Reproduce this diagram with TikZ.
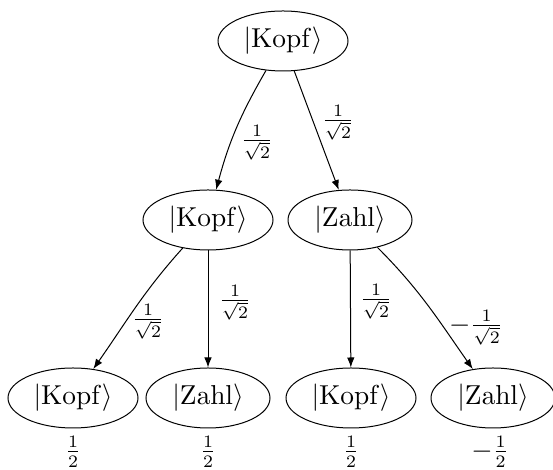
\documentclass[tikz,border=0pt]{standalone}
\usetikzlibrary{shapes.geometric,arrows.meta}
\begin{document}
\begin{tikzpicture}[x=0.4pt,y=-0.4pt,
  every node/.style={font=\fontsize{10.5pt}{12.5pt}\selectfont},
  state/.style={draw,ellipse,inner sep=0pt,minimum height=24pt},
  kopf/.style={state,minimum width=52pt},
  zahl/.style={state,minimum width=49.6pt},
  edge/.style={draw,-{Latex[length=4pt,width=3pt]}},
  lab/.style={inner sep=0pt}]
\useasboundingbox (0,0) rectangle (553,470);
\node[kopf] (t) at (283,41) {$|\mathrm{Kopf}\rangle$};
\node[kopf] (ml) at (208,220) {$|\mathrm{Kopf}\rangle$};
\node[zahl] (mr) at (350,220) {$|\mathrm{Zahl}\rangle$};
\node[kopf] (b1) at (73,398) {$|\mathrm{Kopf}\rangle$};
\node[zahl] (b2) at (208,398) {$|\mathrm{Zahl}\rangle$};
\node[kopf] (b3) at (351,398) {$|\mathrm{Kopf}\rangle$};
\node[zahl] (b4) at (493,398) {$|\mathrm{Zahl}\rangle$};
\path[edge] (t) to[out=240,in=75] (ml);
\path[edge] (t) -- (mr);
\path[edge] (ml) to[out=228,in=55] (b1);
\path[edge] (ml) -- (b2);
\path[edge] (mr) -- (b3);
\path[edge] (mr) to[out=315,in=125] (b4);
\node[lab] (l1) at (257,143) {$\frac{1}{\sqrt{2}}$};
\node[lab] (l2) at (338,123) {$\frac{1}{\sqrt{2}}$};
\node[lab] (l3) at (148,322) {$\frac{1}{\sqrt{2}}$};
\node[lab] (l4) at (235,303) {$\frac{1}{\sqrt{2}}$};
\node[lab] (l5) at (376,302) {$\frac{1}{\sqrt{2}}$};
\node[lab] (l6) at (476,328) {$-\frac{1}{\sqrt{2}}$};
\node[lab] (p1) at (73,452) {$\frac{1}{2}$};
\node[lab] (p2) at (208,452) {$\frac{1}{2}$};
\node[lab] (p3) at (351,452) {$\frac{1}{2}$};
\node[lab] (p4) at (490,452) {$-\frac{1}{2}$};
\end{tikzpicture}
\end{document}
